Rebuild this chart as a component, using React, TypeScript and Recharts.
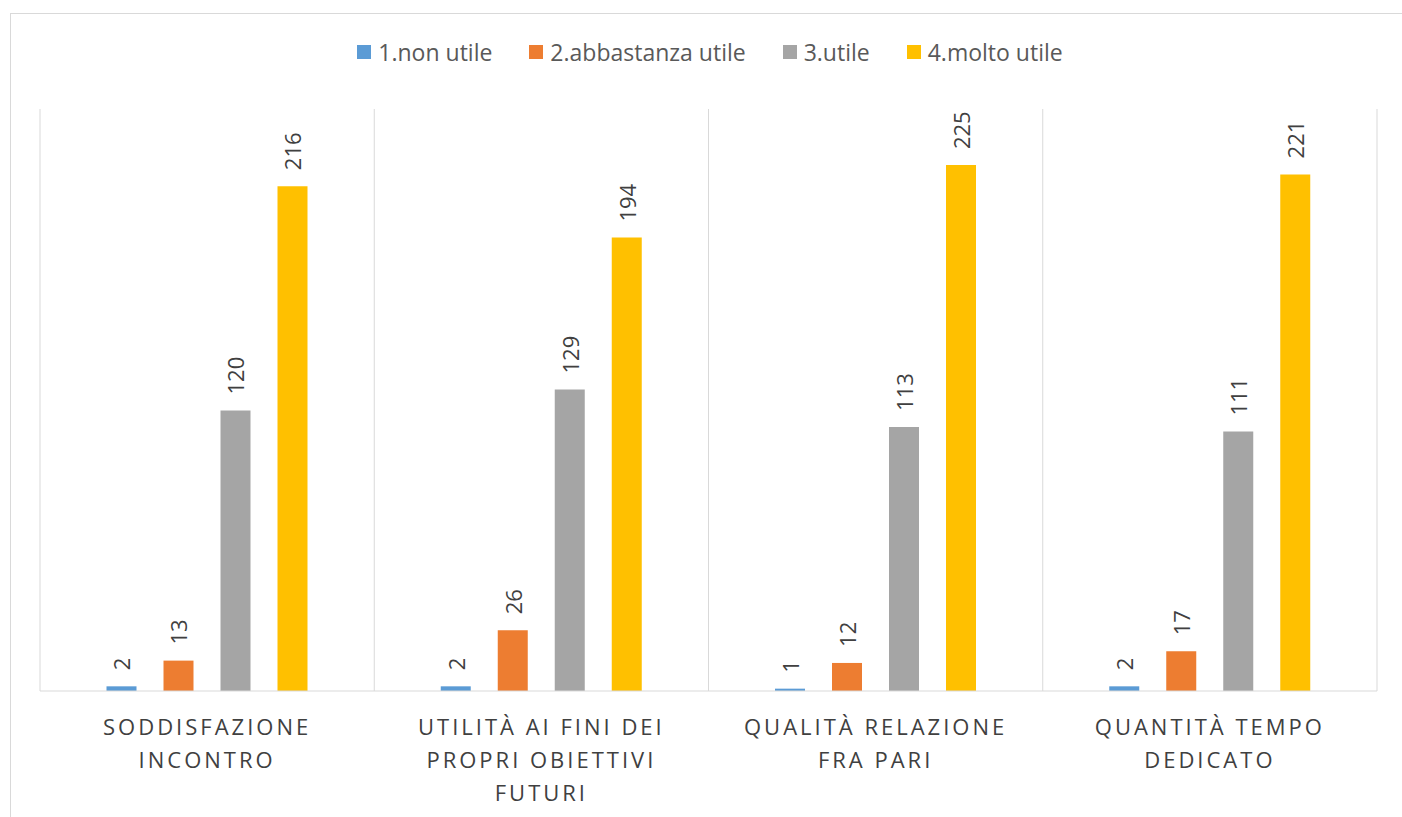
import React from 'react';
import { BarChart, Bar, XAxis, YAxis, Legend, LabelList, ReferenceLine } from 'recharts';

// categorie (asse X) e righe delle etichette come in Excel
const categorie = [
  'Soddisfazione incontro',
  'Utilità ai fini dei propri obiettivi futuri',
  'Qualità relazione fra pari',
  'Quantità tempo dedicato',
];
const righeEtichette = [
  ['SODDISFAZIONE', 'INCONTRO'],
  ['UTILITÀ AI FINI DEI', 'PROPRI OBIETTIVI', 'FUTURI'],
  ['QUALITÀ RELAZIONE', 'FRA PARI'],
  ['QUANTITÀ TEMPO', 'DEDICATO'],
];

const nonUtile = [2, 2, 1, 2];
const abbastanzaUtile = [13, 26, 12, 17];
const utile = [120, 129, 113, 111];
const moltoUtile = [216, 194, 225, 221];

const serie = [
  { key: 'nonUtile', name: '1.non utile', color: '#5B9BD5' },
  { key: 'abbastanzaUtile', name: '2.abbastanza utile', color: '#ED7D31' },
  { key: 'utile', name: '3.utile', color: '#A5A5A5' },
  { key: 'moltoUtile', name: '4.molto utile', color: '#FFC000' },
];

const data = categorie.map((c, i) => ({
  name: c,
  nonUtile: nonUtile[i],
  abbastanzaUtile: abbastanzaUtile[i],
  utile: utile[i],
  moltoUtile: moltoUtile[i],
}));

const FONT = '"Open Sans", sans-serif';

const TickCategoria = (props: any) => {
  const { x, y, index } = props;
  const righe = righeEtichette[index] || [];
  return (
    <g>
      {righe.map((r, i) => (
        <text
          key={i}
          x={x}
          y={y + 27 + i * 33}
          textAnchor="middle"
          dominantBaseline="central"
          fontFamily={FONT}
          fontSize={22}
          fill="#404040"
          style={{ letterSpacing: '3px' }}
        >
          {r}
        </text>
      ))}
    </g>
  );
};

const EtichettaValore = (props: any) => {
  const { x, y, width, value } = props;
  const cx = x + width / 2;
  const cy = y - 16;
  return (
    <text
      x={cx}
      y={cy}
      transform={`rotate(-90 ${cx} ${cy})`}
      textAnchor="start"
      dominantBaseline="central"
      fontFamily={FONT}
      fontSize={22}
      fill="#404040"
    >
      {value}
    </text>
  );
};

const Legenda = () => (
  <div style={{ display: 'flex', justifyContent: 'center', gap: 37, paddingLeft: 18, fontFamily: FONT, fontSize: 23, color: '#595959' }}>
    {serie.map(s => (
      <div key={s.key} style={{ display: 'flex', alignItems: 'center' }}>
        <span style={{ width: 14, height: 14, flexShrink: 0, background: s.color, display: 'inline-block', marginRight: 7 }} />
        <span>{s.name}</span>
      </div>
    ))}
  </div>
);

export default function App() {
  return (
    <div style={{ position: 'absolute', left: 0, top: 0, width: 1402, height: 817, overflow: 'hidden', background: '#fff' }}>
      <div style={{ position: 'absolute', left: 10, top: 13, width: 1420, height: 840, border: '1px solid #d9d9d9' }} />
      <div style={{ position: 'absolute', left: 0, top: 0 }}>
        <BarChart
          width={1402}
          height={817}
          data={data}
          margin={{ top: 77, right: 25, left: 40, bottom: 0 }}
          barCategoryGap={66.5}
          barGap={27}
        >
          <XAxis
            dataKey="name"
            height={126}
            tickLine={false}
            axisLine={{ stroke: '#d9d9d9' }}
            tick={<TickCategoria />}
            interval={0}
          />
          <YAxis hide domain={[0, 249]} />
          {categorie.map(c => (
            <ReferenceLine key={c} x={c} position="start" stroke="#d9d9d9" />
          ))}
          <ReferenceLine x={categorie[categorie.length - 1]} position="end" stroke="#d9d9d9" />
          <Legend
            verticalAlign="top"
            content={<Legenda />}
            wrapperStyle={{ position: 'absolute', top: 36, left: 0, width: 1402 }}
          />
          {serie.map(s => (
            <Bar key={s.key} dataKey={s.key} name={s.name} fill={s.color} isAnimationActive={false}>
              <LabelList dataKey={s.key} content={<EtichettaValore />} />
            </Bar>
          ))}
        </BarChart>
      </div>
    </div>
  );
}
